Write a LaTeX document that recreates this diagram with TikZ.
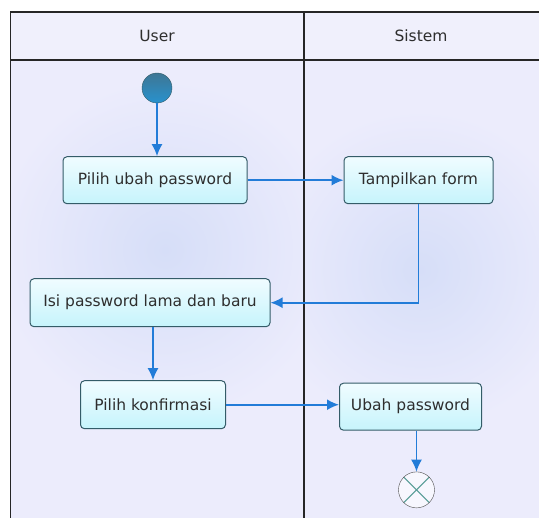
\documentclass[tikz,border=0pt]{standalone}
\usepackage{fontspec}
\setmainfont{DejaVu Sans}
\usepackage{tikz}
\usetikzlibrary{arrows.meta,positioning}
\definecolor{lanebg}{RGB}{236,236,252}
\definecolor{headbg}{RGB}{240,240,252}
\definecolor{glow}{RGB}{214,222,248}
\definecolor{flowblue}{RGB}{34,124,216}
\definecolor{boxline}{RGB}{52,92,104}
\definecolor{boxtop}{RGB}{240,252,255}
\definecolor{boxbottom}{RGB}{198,244,252}
\definecolor{starttop}{RGB}{62,118,148}
\definecolor{startbottom}{RGB}{40,146,206}
\definecolor{crossline}{RGB}{86,156,150}

\begin{document}
\begin{tikzpicture}
  [x=1pt, y=-1pt,
  font=\fontsize{15.5}{18}\selectfont, text=black!82,
  frame/.style={draw=black!85, line width=1.4pt},
  activity/.style={rectangle, rounded corners=4pt, draw=boxline, line width=1pt, top color=boxtop, bottom color=boxbottom, minimum height=47pt, text centered},
  initial/.style={circle, minimum size=30pt, inner sep=0pt, draw=boxline, top color=starttop, bottom color=startbottom},
  final/.style={circle, minimum size=36pt, inner sep=0pt, draw=black!70, fill=white!60!lanebg, path picture={
      \draw[crossline, line width=1pt] (path picture bounding box.north west) -- (path picture bounding box.south east);
      \draw[crossline, line width=1pt] (path picture bounding box.south west) -- (path picture bounding box.north east);}},
  flow/.style={draw=flowblue, line width=1.8pt, -{Latex[length=12pt,width=11pt]}}]
  \useasboundingbox (0,0) rectangle (539,518);

% Swimlanes
  \fill[white] (0,0) rectangle (539,518);
  \fill[lanebg] (10.5,60) rectangle (539,518);
  \begin{scope}
    \clip (10.5,60) rectangle (304,518);
    \shade[inner color=glow, outer color=lanebg] (165,250) circle (170);
  \end{scope}
  \begin{scope}
    \clip (304,60) rectangle (539,518);
    \shade[inner color=glow, outer color=lanebg] (420,270) circle (160);
  \end{scope}
  \fill[headbg] (10.5,12) rectangle (539,60);
  \draw[frame] (10.5,518) -- (10.5,12) -- (539,12);
  \draw[frame] (10.5,60) -- (539,60);
  \draw[frame] (304,12) -- (304,518);
  \node (user) at (157,36) {User};
  \node (sistem) at (421,36) {Sistem};

% Activities
  \node (start) [initial] at (157,88) {};
  \node (pilih-ubah) [activity, minimum width=184pt, below=53pt of start, xshift=-2pt] {Pilih ubah password};
  \node (tampil-form) [activity, minimum width=149pt, right=96pt of pilih-ubah] {Tampilkan form};
  \node (isi-password) [activity, minimum width=240pt, minimum height=48pt, below=74pt of pilih-ubah, xshift=-5pt] {Isi password lama dan baru};
  \node (konfirmasi) [activity, minimum width=145pt, minimum height=48pt, below=53pt of isi-password, xshift=3pt] {Pilih konfirmasi};
  \node (ubah-password) [activity, minimum width=142pt, right=113pt of konfirmasi, yshift=-2pt] {Ubah password};
  \node (end) [final, below=41pt of ubah-password, xshift=6pt] {};

% Flows
  \draw[flow] (start) -- (start |- pilih-ubah.north);
  \draw[flow] (pilih-ubah) -- (tampil-form);
  \draw[flow] (tampil-form) |- (isi-password);
  \draw[flow] (isi-password.south -| konfirmasi) -- (konfirmasi);
  \draw[flow] (konfirmasi) -- (konfirmasi -| ubah-password.west);
  \draw[flow] (ubah-password.south -| end) -- (end);
\end{tikzpicture}
\end{document}
